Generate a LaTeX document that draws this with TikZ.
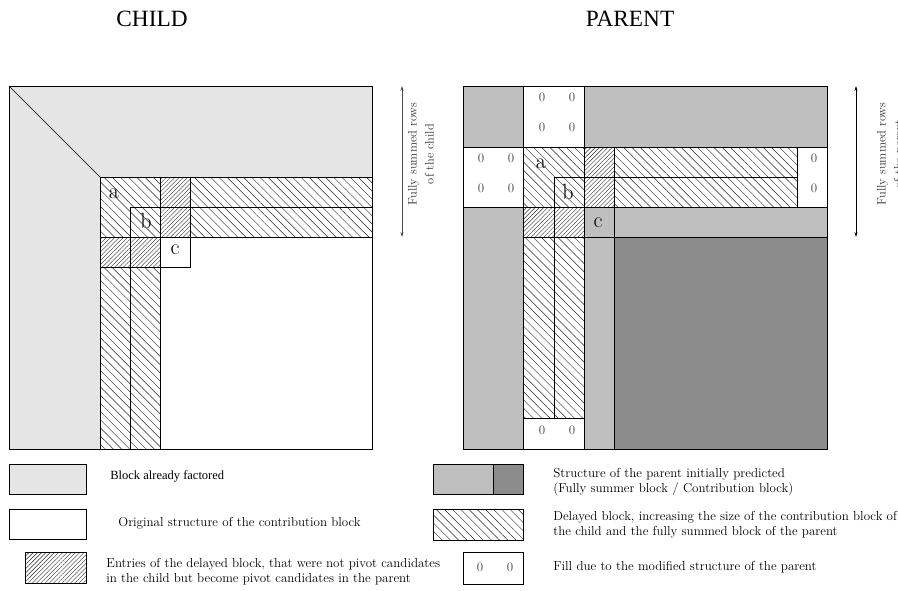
\documentclass[tikz,border=0pt]{standalone}
\usepackage{fontspec}
\newfontfamily\timesfont{Liberation Serif}
\usetikzlibrary{patterns.meta,arrows.meta}
\definecolor{factored}{HTML}{E5E5E5}
\definecolor{fullysummed}{HTML}{BFBFBF}
\definecolor{contribution}{HTML}{8C8C8C}
\tikzset{
    sparsehatch/.style={pattern={Lines[angle=-45,distance=5.8pt,line width=0.45pt]},pattern color=black!85},
    densehatch/.style={pattern={Lines[angle=45,distance=3pt,line width=0.4pt]},pattern color=black!85},
    legendtext/.style={anchor=base west,align=left,inner sep=0pt,font=\fontsize{13}{15}\selectfont},
    zeroentry/.style={font=\fontsize{13}{13}\selectfont,text=black!75},
    blocklabel/.style={font=\fontsize{22}{22}\selectfont},
    rowslabel/.style={rotate=90,align=center,font=\fontsize{12.4}{17}\selectfont,text=black!80},
    title/.style={anchor=base,font=\timesfont\fontsize{23.3}{24}\selectfont},
}
\begin{document}
\begin{tikzpicture}[x=1pt,y=-1pt,line width=0.7pt]
        \useasboundingbox (0,0) rectangle (898,590);

        %TITLES
        \node[title] (childtitle) at (152,26) {CHILD};
        \node[title] (parenttitle) at (630,26) {PARENT};

        %CHILD
        \begin{scope}[local bounding box=CHILD]
            \fill[factored] (9,86) rectangle (372,449);
            \fill[white] (100,177) rectangle (372,449);
            \fill[sparsehatch] (100,177) rectangle (160,237);
            \fill[sparsehatch] (190,177) rectangle (372,237);
            \fill[sparsehatch] (100,267) rectangle (160,449);
            \fill[densehatch] (160,177) rectangle (190,237);
            \fill[densehatch] (100,237) rectangle (160,267);
            \draw (9,86) rectangle (372,449);
            \draw (9,86) -- (100,177);
            \draw (372,177) -- (100,177) -- (100,449);
            \draw (372,207) -- (130,207) -- (130,449);
            \draw (100,237) -- (372,237);
            \draw (160,177) -- (160,449);
            \draw (190,177) -- (190,267) -- (100,267);
            \node[blocklabel] (childa) at (114,194) {a};
            \node[blocklabel] (childb) at (146,221) {b};
            \node[blocklabel] (childc) at (175,250) {c};
        \end{scope}
        \coordinate (childtop) at (402,86);
        \coordinate (childbottom) at (402,237);
        \draw[black!70,line width=0.6pt,{Stealth[length=5pt,width=3pt]}-{Stealth[length=5pt,width=3pt]}] (childtop) -- (childbottom);
        \node[rowslabel] (childrows) at (421,154) {Fully summed rows\\of the child};

        %PARENT
        \begin{scope}[local bounding box=PARENT]
            \fill[fullysummed] (463,86) rectangle (827,449);
            \fill[contribution] (614,237) rectangle (827,449);
            \fill[white] (523,86) rectangle (584,147);
            \fill[white] (463,147) rectangle (523,207);
            \fill[white] (797,147) rectangle (827,207);
            \fill[white] (523,418) rectangle (584,449);
            \fill[white] (523,147) rectangle (797,207);
            \fill[white] (523,147) rectangle (584,418);
            \fill[sparsehatch] (523,147) rectangle (584,207);
            \fill[sparsehatch] (614,147) rectangle (797,207);
            \fill[sparsehatch] (523,237) rectangle (584,418);
            \fill[densehatch] (584,147) rectangle (614,207);
            \fill[densehatch] (523,207) rectangle (584,237);
            \draw (463,86) rectangle (827,449);
            \draw (463,147) -- (827,147);
            \draw (463,207) -- (827,207);
            \draw (523,237) -- (827,237);
            \draw (554,418) -- (554,177) -- (797,177);
            \draw (523,418) -- (584,418);
            \draw (523,86) -- (523,449);
            \draw (584,86) -- (584,449);
            \draw (614,147) -- (614,449);
            \draw (797,147) -- (797,207);
            \node[blocklabel] (parenta) at (541,164) {a};
            \node[blocklabel] (parentb) at (568,192) {b};
            \node[blocklabel] (parentc) at (598,223) {c};
            \foreach \zx/\zy [count=\i] in {542/97,572/97,542/127,572/127,481/158,511/158,481/188,511/188,814/158,814/188,542/430,572/430}
                \node[zeroentry] (zero\i) at (\zx,\zy) {0};
        \end{scope}
        \coordinate (parenttop) at (856,86);
        \coordinate (parentbottom) at (856,237);
        \draw[line width=0.6pt,{Stealth[length=5pt,width=3pt]}-{Stealth[length=5pt,width=3pt]}] (parenttop) -- (parentbottom);
        \node[rowslabel] (parentrows) at (891,154) {Fully summed rows\\of the parent};

        %LEGEND
        \draw[fill=factored] (9,464) rectangle (86,494);
        \node[legendtext,font=\timesfont\fontsize{12.5}{14}\selectfont] (keyfactored) at (110,479) {Block already factored};
        \draw[fill=white] (9,509) rectangle (86,539);
        \node[legendtext] (keyoriginal) at (118,526) {Original structure of the contribution block};
        \draw[densehatch] (25,552) rectangle (86,583);
        \node[legendtext] (keyentries) at (106,582) {Entries of the delayed block, that were not pivot candidates\\in the child but become pivot candidates in the parent};
        \fill[fullysummed] (433,464) rectangle (493,494);
        \fill[contribution] (493,464) rectangle (523,494);
        \draw (433,464) rectangle (523,494);
        \draw (493,464) -- (493,494);
        \node[legendtext] (keystructure) at (553,492) {Structure of the parent initially predicted\\(Fully summer block / Contribution block)};
        \draw[sparsehatch] (433,509) rectangle (523,540);
        \node[legendtext] (keydelayed) at (553,535) {Delayed block, increasing the size of the contribution block of\\the child and the fully summed block of the parent};
        \draw (463,552) rectangle (523,584);
        \node[zeroentry] (keyzeroa) at (480,567) {0};
        \node[zeroentry] (keyzerob) at (510,567) {0};
        \node[legendtext] (keyfill) at (553,570) {Fill due to the modified structure of the parent};
    \end{tikzpicture}
\end{document}
